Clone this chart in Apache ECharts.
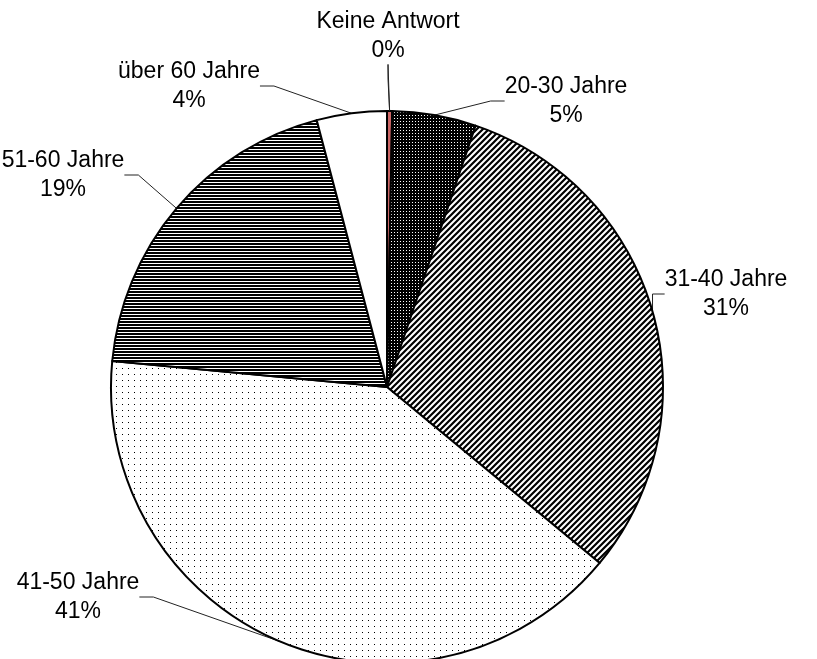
<!DOCTYPE html>
<html>
<head>
<meta charset="utf-8">
<script src="https://cdn.jsdelivr.net/npm/echarts@6/dist/echarts.min.js"></script>
<style>
  html, body { margin: 0; padding: 0; background: #fff; }
  #chart { width: 817px; height: 659px; }
</style>
</head>
<body>
<div id="chart"></div>
<script>
var categories = ['Keine Antwort', '20-30 Jahre', '31-40 Jahre', '41-50 Jahre', '51-60 Jahre', 'über 60 Jahre']
var shares = [0.3, 4.9, 30.8, 40.5, 19.4, 4.1]

// small tile patterns, like the Excel fill patterns
function makeTile (w, h, draw) {
  var c = document.createElement('canvas')
  c.width = w
  c.height = h
  var ctx = c.getContext('2d')
  draw(ctx, w, h)
  return { image: c, repeat: 'repeat' }
}

var darkDots = makeTile(3, 3, function (ctx) {
  ctx.fillStyle = '#000'
  ctx.fillRect(0, 0, 3, 3)
  ctx.fillStyle = '#fff'
  ctx.fillRect(1, 1, 1, 1)
})
var wideDiag = makeTile(6, 6, function (ctx) {
  ctx.fillStyle = '#fff'
  ctx.fillRect(0, 0, 6, 6)
  ctx.strokeStyle = '#000'
  ctx.lineWidth = 2.2
  ctx.beginPath()
  ctx.moveTo(-3, 9); ctx.lineTo(9, -3)
  ctx.moveTo(-3, 3); ctx.lineTo(3, -3)
  ctx.moveTo(3, 9); ctx.lineTo(9, 3)
  ctx.stroke()
})
var sparseDots = makeTile(6, 6, function (ctx) {
  ctx.fillStyle = '#fff'
  ctx.fillRect(0, 0, 6, 6)
  ctx.fillStyle = '#000'
  ctx.fillRect(2, 2, 1, 1)
})
var hLines = makeTile(4, 3, function (ctx) {
  ctx.fillStyle = '#fff'
  ctx.fillRect(0, 0, 4, 3)
  ctx.fillStyle = '#000'
  ctx.fillRect(0, 0, 4, 2)
})

var fills = ['#cc6666', darkDots, wideDiag, sparseDots, hLines, '#ffffff']

// where Excel put each label (centre of the two-line block)
var labelSpots = [[388, 36], [566, 101], [726, 294], [78, 597], [63, 175], [189, 86]]
var labelHalfHeight = 29
var pieCenter = [387, 387]
var pieRadius = 276

// ECharts drops the leader line of the hair-thin first slice, so draw it
// from the middle of that slice's arc up to its label
var total = shares.reduce(function (a, b) { return a + b }, 0)
var mid = Math.PI / 2 - (shares[0] / total) * Math.PI
var ax = pieCenter[0] + pieRadius * Math.cos(mid)
var ay = pieCenter[1] - pieRadius * Math.sin(mid)

var chart = echarts.init(document.getElementById('chart'))
chart.setOption({
  animation: false,
  series: [{
    type: 'pie',
    center: pieCenter,
    radius: pieRadius,
    startAngle: 90,
    clockwise: true,
    percentPrecision: 0,
    avoidLabelOverlap: false,
    itemStyle: { borderColor: '#000', borderWidth: 2 },
    label: {
      formatter: '{b}\n{d}%',
      color: '#000',
      fontFamily: 'Liberation Sans, Arial, sans-serif',
      fontSize: 23,
      lineHeight: 29,
      align: 'center'
    },
    labelLine: {
      show: true,
      length: 20,
      length2: 14,
      lineStyle: { color: '#222', width: 1 }
    },
    labelLayout: function (p) {
      var s = labelSpots[p.dataIndex]
      return { x: s[0], y: s[1], align: 'center', verticalAlign: 'middle' }
    },
    emphasis: { disabled: true },
    data: categories.map(function (name, i) {
      return { name: name, value: shares[i], itemStyle: { color: fills[i] } }
    })
  }, {
    // leader line for "Keine Antwort"
    type: 'custom',
    coordinateSystem: 'none',
    silent: true,
    z: 10,
    data: [0],
    renderItem: function () {
      return {
        type: 'line',
        shape: {
          x1: ax,
          y1: ay,
          x2: labelSpots[0][0],
          y2: labelSpots[0][1] + labelHalfHeight - 1
        },
        style: { stroke: '#222', lineWidth: 1 }
      }
    }
  }]
})
</script>
</body>
</html>
